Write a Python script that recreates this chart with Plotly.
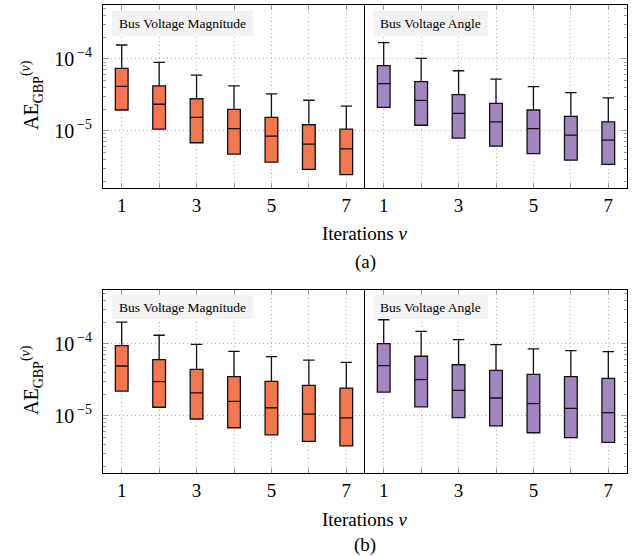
import plotly.graph_objects as go

iterations = [1, 2, 3, 4, 5, 6, 7]
xtick_labels = ["1", "", "3", "", "5", "", "7"]

# Panel (a) - Bus Voltage Magnitude
a_mag_upper = [1.55e-4, 8.9e-5, 5.9e-5, 4.2e-5, 3.25e-5, 2.65e-5, 2.2e-5]
a_mag_q3 = [7.35e-5, 4.2e-5, 2.78e-5, 1.98e-5, 1.53e-5, 1.21e-5, 1.05e-5]
a_mag_med = [4.13e-5, 2.33e-5, 1.53e-5, 1.07e-5, 8.4e-6, 6.5e-6, 5.6e-6]
a_mag_q1 = [1.94e-5, 1.05e-5, 6.8e-6, 4.74e-6, 3.67e-6, 2.91e-6, 2.45e-6]
# Panel (a) - Bus Voltage Angle
a_ang_upper = [1.67e-4, 1.01e-4, 6.8e-5, 5.2e-5, 4.1e-5, 3.37e-5, 2.85e-5]
a_ang_q3 = [8.0e-5, 4.8e-5, 3.16e-5, 2.4e-5, 1.94e-5, 1.58e-5, 1.33e-5]
a_ang_med = [4.5e-5, 2.64e-5, 1.74e-5, 1.33e-5, 1.07e-5, 8.7e-6, 7.4e-6]
a_ang_q1 = [2.11e-5, 1.19e-5, 7.9e-6, 6.1e-6, 4.8e-6, 3.9e-6, 3.4e-6]
# Panel (b) - Bus Voltage Magnitude
b_mag_upper = [2.0e-4, 1.31e-4, 9.8e-5, 7.8e-5, 6.6e-5, 5.9e-5, 5.5e-5]
b_mag_q3 = [9.4e-5, 6.0e-5, 4.4e-5, 3.5e-5, 3.0e-5, 2.64e-5, 2.42e-5]
b_mag_med = [4.9e-5, 2.97e-5, 2.08e-5, 1.58e-5, 1.29e-5, 1.05e-5, 9.3e-6]
b_mag_q1 = [2.2e-5, 1.31e-5, 9.0e-6, 6.8e-6, 5.4e-6, 4.4e-6, 3.8e-6]
# Panel (b) - Bus Voltage Angle
b_ang_upper = [2.15e-4, 1.48e-4, 1.14e-4, 9.7e-5, 8.5e-5, 8.0e-5, 7.75e-5]
b_ang_q3 = [1.0e-4, 6.7e-5, 5.1e-5, 4.26e-5, 3.75e-5, 3.48e-5, 3.3e-5]
b_ang_med = [4.95e-5, 3.16e-5, 2.25e-5, 1.76e-5, 1.47e-5, 1.26e-5, 1.1e-5]
b_ang_q1 = [2.13e-5, 1.33e-5, 9.4e-6, 7.2e-6, 5.8e-6, 4.95e-6, 4.27e-6]

ORANGE = "#F4764F"
PURPLE = "#A386C0"
FONT = "Liberation Serif"

W, H = 637, 556
fig = go.Figure()


def px_x(p):
    return p / W


def px_y(p):
    return 1 - p / H


x_left = [px_x(103), px_x(365)]
x_right = [px_x(365), px_x(627)]
y_top = [px_y(188), px_y(5)]
y_bot = [px_y(473), px_y(290)]

panels = [
    ("x", "y", a_mag_upper, a_mag_q3, a_mag_med, a_mag_q1, ORANGE),
    ("x2", "y2", a_ang_upper, a_ang_q3, a_ang_med, a_ang_q1, PURPLE),
    ("x3", "y3", b_mag_upper, b_mag_q3, b_mag_med, b_mag_q1, ORANGE),
    ("x4", "y4", b_ang_upper, b_ang_q3, b_ang_med, b_ang_q1, PURPLE),
]

for xa, ya, up, q3, med, q1, col in panels:
    fig.add_trace(go.Box(
        x=iterations, q1=q1, median=med, q3=q3,
        lowerfence=q1, upperfence=up,
        xaxis=xa, yaxis=ya, width=0.34, whiskerwidth=0.9,
        fillcolor=col, line=dict(color="#111111", width=1.3),
        showlegend=False, boxpoints=False, hoverinfo="skip",
    ))

minor_vals = []
for e in [1e-7, 1e-6, 1e-5, 1e-4, 1e-3]:
    for m in range(2, 10):
        minor_vals.append(m * e)

yrange = [-5.796, -3.254]
GRID = "#b5b5b5"
TICKC = "#9a9a9a"


def xaxis_cfg(domain, anchor):
    return dict(
        domain=domain, anchor=anchor, range=[0.5, 7.5],
        tickvals=iterations, ticktext=xtick_labels,
        ticks="inside", ticklen=5, tickcolor=TICKC, tickwidth=1,
        showline=True, linecolor="black", linewidth=1, mirror="ticks",
        showgrid=True, gridcolor=GRID, griddash="1px,3px", gridwidth=1,
        zeroline=False,
        tickfont=dict(family=FONT, size=19, color="black"),
        ticklabelstandoff=0,
    )


def yaxis_cfg(domain, anchor, left=True):
    d = dict(
        domain=domain, anchor=anchor, type="log", range=yrange,
        tickvals=[1e-5, 1e-4],
        ticktext=["10<sup>\u2009\u22125</sup>", "10<sup>\u2009\u22124</sup>"],
        ticks="inside", ticklen=6, tickcolor=TICKC, tickwidth=1,
        showline=True, linecolor="black", linewidth=1,
        mirror=(False if left else True),
        showgrid=True, gridcolor=GRID, griddash="1px,3px", gridwidth=1,
        zeroline=False,
        minor=dict(tickvals=minor_vals, ticks="inside", ticklen=3,
                   tickcolor=TICKC, showgrid=False),
        tickfont=dict(family=FONT, size=20, color="black"),
        ticklabelstandoff=6,
    )
    if not left:
        d["side"] = "right"
        d["showticklabels"] = False
    return d


fig.update_layout(
    width=W, height=H, margin=dict(l=0, r=0, t=0, b=0),
    paper_bgcolor="white", plot_bgcolor="white",
    xaxis=xaxis_cfg(x_left, "y"),
    yaxis=yaxis_cfg(y_top, "x"),
    xaxis2=xaxis_cfg(x_right, "y2"),
    yaxis2=yaxis_cfg(y_top, "x2", left=False),
    xaxis3=xaxis_cfg(x_left, "y3"),
    yaxis3=yaxis_cfg(y_bot, "x3"),
    xaxis4=xaxis_cfg(x_right, "y4"),
    yaxis4=yaxis_cfg(y_bot, "x4", left=False),
    font=dict(family=FONT, color="black"),
)

annotations = []
# Panel title boxes
for (x0, x1, y0, y1, txt) in [
    (112, 253, 11, 36, "Bus Voltage Magnitude"),
    (373, 488, 11, 36, "Bus Voltage Angle"),
    (112, 253, 295, 319, "Bus Voltage Magnitude"),
    (373, 488, 295, 319, "Bus Voltage Angle"),
]:
    fig.add_shape(type="rect", xref="paper", yref="paper",
                  x0=px_x(x0), x1=px_x(x1), y0=px_y(y1), y1=px_y(y0),
                  fillcolor="#f3f3f3", line=dict(width=0), layer="above")
    annotations.append(dict(
        x=px_x((x0 + x1) / 2), y=px_y((y0 + y1) / 2), xref="paper", yref="paper",
        text=txt, showarrow=False, xanchor="center", yanchor="middle",
        font=dict(family=FONT, size=13.5, color="black")))

for yc, ycap, cap in [(233, 262, "(a)"), (519, 545, "(b)")]:
    annotations.append(dict(
        x=px_x(365), y=px_y(yc), xref="paper", yref="paper",
        text="Iterations <i>\u03bd</i>", showarrow=False,
        xanchor="center", yanchor="middle",
        font=dict(family=FONT, size=19, color="black")))
    annotations.append(dict(
        x=px_x(365), y=px_y(ycap), xref="paper", yref="paper",
        text=cap, showarrow=False, xanchor="center", yanchor="middle",
        font=dict(family=FONT, size=19, color="black")))

for yc in [95, 380]:
    annotations.append(dict(
        x=px_x(32), y=px_y(yc), xref="paper", yref="paper",
        text="AE<sub>GBP</sub><sup>(<i>\u03bd</i>)</sup>", showarrow=False,
        textangle=-90, xanchor="center", yanchor="middle",
        font=dict(family=FONT, size=20, color="black")))

fig.update_layout(annotations=annotations)
fig.write_html(
    "out.html",
    config={"displayModeBar": False},
    post_script="document.body.style.margin='0';document.body.style.padding='0';",
)
